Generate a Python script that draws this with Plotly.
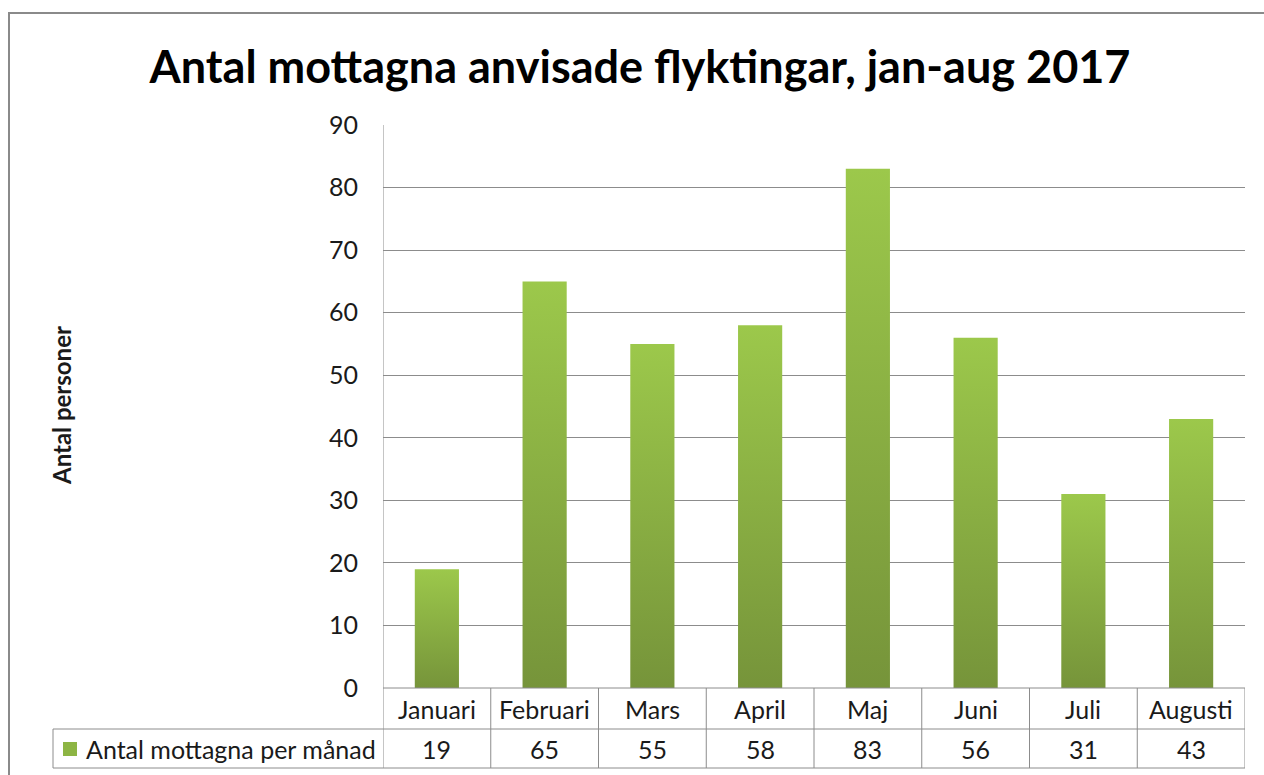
import plotly.graph_objects as go

months = ["Januari", "Februari", "Mars", "April", "Maj", "Juni", "Juli", "Augusti"]
values = [19, 65, 55, 58, 83, 56, 31, 43]
series_name = "Antal mottagna per månad"
title = "Antal mottagna anvisade flyktingar, jan-aug 2017"
y_title = "Antal personer"
y_ticks = [0, 10, 20, 30, 40, 50, 60, 70, 80, 90]

FONT = "Lato"
LIGHT = "#9cc84b"
DARK = "#76943a"
GRID = "#8c8c8c"
TXT = "#1a1a1a"

W, H = 1264, 775
L, R, T, B = 383, 1245, 125, 688
pw, ph = R - L, B - T

def px_x(x):
    return (x - L) / pw

def px_y(y):
    return (B - y) / ph

fig = go.Figure()
half = 0.205
for i, v in enumerate(values):
    fig.add_trace(go.Scatter(
        x=[i - half, i + half, i + half, i - half, i - half],
        y=[0, 0, v, v, 0],
        mode="lines", line=dict(width=0), fill="toself",
        fillgradient=dict(type="vertical", colorscale=[[0, DARK], [1, LIGHT]]),
        hoverinfo="skip", showlegend=False,
    ))

shapes = []
# outer frame
shapes.append(dict(type="rect", xref="paper", yref="paper",
                   x0=px_x(9), x1=px_x(1300), y0=px_y(13), y1=px_y(800),
                   line=dict(color="#8a8a8a", width=2), layer="below"))
n = len(months)
row1, row2 = 729, 768
# horizontal table lines
shapes.append(dict(type="line", xref="x", yref="paper", x0=-0.5, x1=n - 0.5,
                   y0=0, y1=0, line=dict(color=GRID, width=1)))
for yy in (row1, row2):
    shapes.append(dict(type="line", xref="paper", yref="paper", x0=px_x(53), x1=1,
                       y0=px_y(yy), y1=px_y(yy), line=dict(color=GRID, width=1)))
# vertical table lines
for i in range(n + 1):
    y_top = 1 if i == 0 else 0
    shapes.append(dict(type="line", xref="x", yref="paper", x0=i - 0.5, x1=i - 0.5,
                       y0=y_top, y1=px_y(row2), line=dict(color=GRID, width=1)))
shapes.append(dict(type="line", xref="paper", yref="paper", x0=px_x(53), x1=px_x(53),
                   y0=px_y(row1), y1=px_y(row2), line=dict(color=GRID, width=1)))
# legend key
shapes.append(dict(type="rect", xref="paper", yref="paper",
                   x0=px_x(63), x1=px_x(77), y0=px_y(756), y1=px_y(742),
                   fillcolor="#8db544", line=dict(width=0)))

TS = 25
annotations = []
for i, (m, v) in enumerate(zip(months, values)):
    annotations.append(dict(x=i, xref="x", y=px_y((688 + row1) / 2), yref="paper",
                            text=m, showarrow=False, font=dict(family=FONT, size=TS, color=TXT),
                            xanchor="center", yanchor="middle"))
    annotations.append(dict(x=i, xref="x", y=px_y((row1 + row2) / 2), yref="paper",
                            text=str(v), showarrow=False, font=dict(family=FONT, size=TS, color=TXT),
                            xanchor="center", yanchor="middle"))
annotations.append(dict(x=px_x(84), xref="paper", y=px_y((row1 + row2) / 2), yref="paper",
                        text=series_name, showarrow=False, font=dict(family=FONT, size=TS, color=TXT),
                        xanchor="left", yanchor="middle"))
annotations.append(dict(x=px_x(61), xref="paper", y=px_y(406), yref="paper",
                        text="<b>" + y_title + "</b>", showarrow=False, textangle=-90,
                        font=dict(family=FONT, size=24, color=TXT),
                        xanchor="center", yanchor="middle"))

fig.update_layout(
    width=W, height=H,
    margin=dict(l=L, r=W - R, t=T, b=H - B, pad=0),
    paper_bgcolor="white", plot_bgcolor="white",
    title=dict(text="<b>" + title + "</b>", xref="container", yref="container",
               x=640 / W, y=1 - 67 / H, xanchor="center", yanchor="middle",
               font=dict(family=FONT, size=45, color="black")),
    xaxis=dict(range=[-0.5, n - 0.5], showticklabels=False, showgrid=False,
               zeroline=False, showline=False, fixedrange=True),
    yaxis=dict(range=[0, 90], tickvals=y_ticks, showgrid=True, gridcolor=GRID,
               gridwidth=1, zeroline=False, showline=False, ticks="",
               ticklabelstandoff=24,
               tickfont=dict(family=FONT, size=25, color=TXT)),
    shapes=shapes, annotations=annotations, showlegend=False,
)
fig.write_html("out.html", config={"displayModeBar": False},
               post_script="document.body.style.margin='0';document.body.style.overflow='hidden';")
